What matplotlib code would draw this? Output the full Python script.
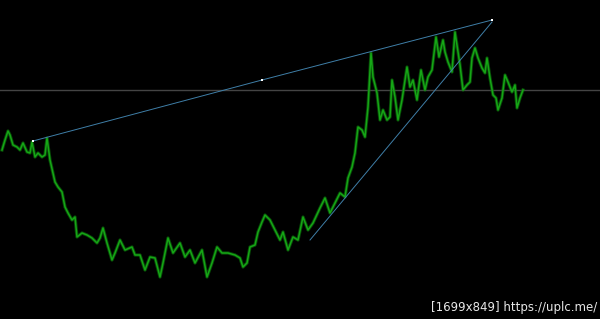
import numpy as np
import matplotlib.pyplot as plt

# bar index (screen x) and price (price = 319 - screen y)
bars = [2, 5, 8, 10, 13, 17, 20, 23, 27, 30, 32, 35, 38, 42, 45, 47, 50, 53, 55, 58,
        62, 65, 68, 72, 75, 77, 82, 87, 92, 97, 100, 103, 107, 112, 115, 120, 125, 132,
        135, 140, 145, 150, 155, 160, 163, 168, 173, 180, 185, 190, 195, 202, 207, 212,
        217, 222, 228, 235, 240, 243, 247, 250, 255, 258, 262, 265, 270, 275, 280, 283,
        288, 293, 298, 303, 308, 313, 320, 325, 330, 335, 340, 345, 348, 352, 355, 358,
        362, 365, 368, 371, 373, 377, 380, 383, 387, 390, 392, 395, 398, 402, 407, 410,
        413, 417, 421, 425, 428, 432, 436, 439, 443, 445, 448, 452, 455, 458, 460, 463,
        467, 470, 472, 475, 478, 482, 485, 487, 490, 493, 496, 498, 502, 505, 508, 512,
        515, 517, 520, 523]
screen_y = [150, 140, 131, 135, 145, 147, 150, 143, 152, 153, 142, 157, 153, 157, 155, 138,
            160, 173, 182, 187, 192, 207, 213, 220, 217, 237, 233, 235, 238, 243, 238, 228,
            243, 260, 253, 240, 250, 247, 255, 255, 270, 257, 258, 277, 263, 238, 253, 243,
            257, 250, 263, 250, 277, 263, 247, 253, 253, 255, 258, 267, 263, 247, 245, 232,
            222, 215, 220, 230, 240, 232, 250, 237, 240, 217, 230, 223, 208, 198, 213, 203,
            193, 197, 178, 167, 153, 127, 130, 137, 107, 53, 77, 93, 120, 110, 120, 117,
            80, 97, 120, 100, 67, 87, 80, 100, 70, 90, 77, 70, 37, 57, 40, 52,
            62, 72, 32, 52, 65, 90, 85, 82, 58, 48, 58, 68, 73, 58, 78, 95,
            98, 110, 98, 75, 82, 92, 85, 108, 98, 90]
price = [319 - v for v in screen_y]

# drawn objects: upper trendline (3 anchors), lower trendline, horizontal level
upper_x = [33, 262, 492]
upper_p = [319 - 141, 319 - 80, 319 - 20]
lower_x = [310, 492]
lower_p = [319 - 240, 319 - 22]
level_p = 319 - 90

fig = plt.figure(figsize=(6, 3.19), dpi=100, facecolor='black')
ax = fig.add_axes([0, 0, 1, 1])
ax.set_facecolor('black')
ax.set_xlim(0, 600)
ax.set_ylim(0, 319)
ax.axis('off')

ax.axhline(level_p, color='#444444', linewidth=1)
ax.plot(bars, price, color='#0c7a0c', linewidth=2.4, alpha=0.6)
ax.plot(bars, price, color='#16a616', linewidth=1.1)
ax.plot(upper_x, upper_p, color='#3f7fa8', linewidth=0.7)
ax.plot(lower_x, lower_p, color='#3f7fa8', linewidth=0.7)
ax.plot(upper_x, upper_p, linestyle='none', marker='s', markersize=2,
        color='white', markeredgewidth=0)

ax.text(597, 11, "[1699x849] https://uplc.me/", color='#e8e8e8', fontsize=8.5,
        ha='right', va='center')

plt.savefig("out.png", dpi=100, facecolor='black')
